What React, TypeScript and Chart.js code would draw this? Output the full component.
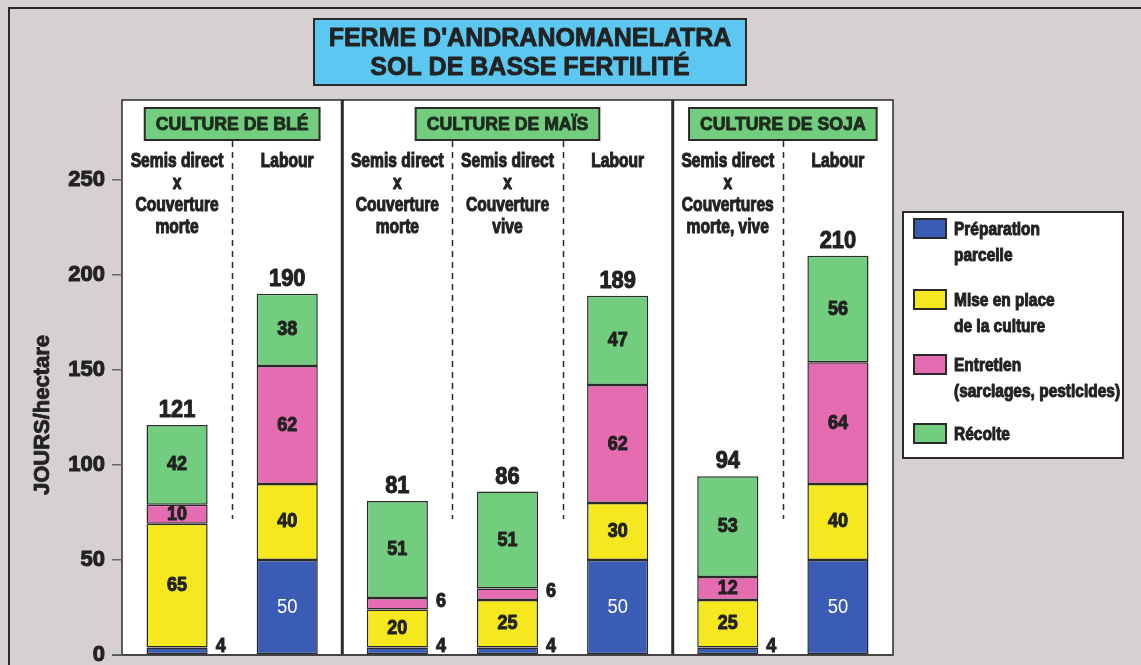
import React, { useEffect, useRef } from "react";
import { Chart, registerables } from "chart.js";

Chart.register(...registerables);

// ---- data ----
const categories = [
  "Blé – Semis direct",
  "Blé – Labour",
  "Maïs – Semis direct morte",
  "Maïs – Semis direct vive",
  "Maïs – Labour",
  "Soja – Semis direct",
  "Soja – Labour",
];
const columnHeaders: string[][] = [
  ["Semis direct", "x", "Couverture", "morte"],
  ["Labour"],
  ["Semis direct", "x", "Couverture", "morte"],
  ["Semis direct", "x", "Couverture", "vive"],
  ["Labour"],
  ["Semis direct", "x", "Couvertures", "morte, vive"],
  ["Labour"],
];
const groupTitles = ["CULTURE DE BLÉ", "CULTURE DE MAÏS", "CULTURE DE SOJA"];
const groupSizes = [2, 3, 2];
const chartTitle = ["FERME D'ANDRANOMANELATRA", "SOL DE BASSE FERTILITÉ"];
const yTitle = "JOURS/hectare";

const preparation = [4, 50, 4, 4, 50, 4, 50];
const miseEnPlace = [65, 40, 20, 25, 30, 25, 40];
const entretien = [10, 62, 6, 6, 62, 12, 64];
const recolte = [42, 38, 51, 51, 47, 53, 56];

const seriesNames = ["Préparation parcelle", "Mise en place de la culture", "Entretien (sarclages, pesticides)", "Récolte"];
const legendLines: string[][] = [
  ["Préparation", "parcelle"],
  ["Mise en place", "de la culture"],
  ["Entretien", "(sarclages, pesticides)"],
  ["Récolte"],
];
const seriesColors = ["#3a5cb4", "#f6e81f", "#e66cb1", "#72ce7e"];

const yTickStep = 50;
const yMax = 292;

const SANS = '"Liberation Sans", Arial, sans-serif';

function txt(
  ctx: CanvasRenderingContext2D,
  s: string,
  x: number,
  y: number,
  font: string,
  sx: number,
  align: CanvasTextAlign,
  color: string,
  baseline: CanvasTextBaseline = "middle",
  heavy = 0.9
) {
  ctx.save();
  ctx.translate(x, y);
  ctx.scale(sx, 1);
  ctx.font = font;
  ctx.fillStyle = color;
  ctx.textAlign = align;
  ctx.textBaseline = baseline;
  if (heavy > 0) {
    ctx.strokeStyle = color;
    ctx.lineWidth = heavy;
    ctx.lineJoin = "round";
    ctx.strokeText(s, 0, 0);
  }
  ctx.fillText(s, 0, 0);
  ctx.restore();
}

const decorPlugin = {
  id: "decor",
  beforeDraw(chart: any) {
    const ctx: CanvasRenderingContext2D = chart.ctx;
    const { left, right, top, bottom } = chart.chartArea;
    const xs = chart.scales.x;
    const W = chart.width;
    const H = chart.height;
    ctx.save();
    // background
    ctx.fillStyle = "#d6d0d0";
    ctx.fillRect(0, 0, W, H);
    // outer frame
    ctx.strokeStyle = "#2a2a2a";
    ctx.lineWidth = 2;
    ctx.beginPath();
    ctx.moveTo(9, H);
    ctx.lineTo(9, 8);
    ctx.lineTo(W, 8);
    ctx.stroke();

    // title box
    ctx.fillStyle = "#5cc7f0";
    ctx.fillRect(314, 19, 432, 66);
    ctx.strokeStyle = "#2a2a2a";
    ctx.lineWidth = 2;
    ctx.strokeRect(314, 19, 432, 66);
    txt(ctx, chartTitle[0], 530, 39, `bold 25px ${SANS}`, 1, "center", "#222", "middle", 0.8);
    txt(ctx, chartTitle[1], 530, 68, `bold 25px ${SANS}`, 1, "center", "#222", "middle", 0.8);

    // white panel
    ctx.fillStyle = "#ffffff";
    ctx.fillRect(left, top, right - left, bottom - top);
    ctx.strokeStyle = "#2a2a2a";
    ctx.lineWidth = 1.5;
    ctx.strokeRect(left, top, right - left, bottom - top);

    const step = xs.getPixelForValue(1) - xs.getPixelForValue(0);
    // group separators and headers
    let idx = 0;
    groupSizes.forEach((n, g) => {
      const gl = xs.getPixelForValue(idx) - step / 2;
      const gr = xs.getPixelForValue(idx + n - 1) + step / 2;
      if (g > 0) {
        ctx.strokeStyle = "#2a2a2a";
        ctx.lineWidth = 3;
        ctx.beginPath();
        ctx.moveTo(gl, top);
        ctx.lineTo(gl, bottom);
        ctx.stroke();
      }
      // header box
      const font = `bold 19px ${SANS}`;
      ctx.font = font;
      const sx = 0.93;
      const tw = ctx.measureText(groupTitles[g]).width * sx;
      const bw = tw + 22;
      const cx = (gl + gr) / 2;
      ctx.fillStyle = "#72ce7e";
      ctx.fillRect(cx - bw / 2, top + 8, bw, 32);
      ctx.strokeStyle = "#2a2a2a";
      ctx.lineWidth = 2;
      ctx.strokeRect(cx - bw / 2, top + 8, bw, 32);
      txt(ctx, groupTitles[g], cx, top + 25, font, sx, "center", "#1e2a1e", "middle", 0.9);
      // dashed separators within group
      for (let k = 1; k < n; k++) {
        const dx = Math.round(xs.getPixelForValue(idx + k) - step / 2) + 0.5;
        ctx.save();
        ctx.setLineDash([6, 5]);
        ctx.strokeStyle = "#2a2a2a";
        ctx.lineWidth = 1.5;
        ctx.beginPath();
        ctx.moveTo(dx, top + 41);
        ctx.lineTo(dx, 519);
        ctx.stroke();
        ctx.restore();
      }
      idx += n;
    });

    // column headers
    columnHeaders.forEach((lines, i) => {
      const cx = xs.getPixelForValue(i);
      lines.forEach((l, k) => {
        txt(ctx, l, cx, 161 + k * 22.3, `bold 20px ${SANS}`, 0.78, "center", "#222", "middle", 1.1);
      });
    });

    // bottom axis line
    ctx.strokeStyle = "#444";
    ctx.lineWidth = 2;
    ctx.beginPath();
    ctx.moveTo(112, bottom);
    ctx.lineTo(right, bottom);
    ctx.stroke();
    ctx.restore();
  },
  afterDatasetsDraw(chart: any) {
    const ctx: CanvasRenderingContext2D = chart.ctx;
    const nSeries = chart.data.datasets.length;
    // segment labels
    for (let d = 0; d < nSeries; d++) {
      const meta = chart.getDatasetMeta(d);
      const vals = chart.data.datasets[d].data as number[];
      meta.data.forEach((el: any, i: number) => {
        const v = vals[i];
        const mid = (el.y + el.base) / 2;
        if (v <= 6) {
          const y = Math.min(mid, el.base - 8);
          txt(ctx, String(v), el.x + el.width / 2 + 8, y, `bold 20px ${SANS}`, 0.9, "left", "#222", "middle", 1);
        } else if (d === 0) {
          txt(ctx, String(v), el.x, mid, `20px ${SANS}`, 0.92, "center", "#ffffff", "middle", 0);
        } else {
          txt(ctx, String(v), el.x, mid, `bold 20px ${SANS}`, 0.9, "center", "#222", "middle", 1);
        }
      });
    }
    // totals
    const topMeta = chart.getDatasetMeta(nSeries - 1);
    topMeta.data.forEach((el: any, i: number) => {
      const total = chart.data.datasets.reduce((s: number, ds: any) => s + ds.data[i], 0);
      txt(ctx, String(total), el.x, el.y - 8, `bold 23px ${SANS}`, 0.95, "center", "#222", "alphabetic", 1);
    });

    // y title
    ctx.save();
    ctx.translate(43, 415);
    ctx.rotate(-Math.PI / 2);
    txt(ctx, yTitle, 0, 0, `bold 22px ${SANS}`, 1, "center", "#222", "middle", 0.8);
    ctx.restore();

    // legend
    ctx.save();
    ctx.fillStyle = "#ffffff";
    ctx.fillRect(903, 212, 220, 246);
    ctx.strokeStyle = "#2a2a2a";
    ctx.lineWidth = 2;
    ctx.strokeRect(903, 212, 220, 246);
    const swTops = [219, 290, 355, 424];
    legendLines.forEach((lines, k) => {
      const ds = chart.data.datasets[k];
      ctx.fillStyle = ds.backgroundColor;
      ctx.fillRect(914, swTops[k], 32, 19);
      ctx.strokeStyle = "#2a2a2a";
      ctx.lineWidth = 2;
      ctx.strokeRect(914, swTops[k], 32, 19);
      lines.forEach((l, j) => {
        txt(ctx, l, 954, swTops[k] + 11 + j * 26, `bold 18px ${SANS}`, 0.86, "left", "#222", "middle", 1);
      });
    });
    ctx.restore();
  },
};

export default function App() {
  const ref = useRef<HTMLCanvasElement | null>(null);
  useEffect(() => {
    document.body.style.margin = "0";
    const canvas = ref.current!;
    const seriesData = [preparation, miseEnPlace, entretien, recolte];
    const chart = new Chart(canvas, {
      type: "bar",
      data: {
        labels: categories,
        datasets: seriesData.map((arr, k) => ({
          label: seriesNames[k],
          data: arr,
          backgroundColor: seriesColors[k],
          borderColor: "#2a2a2a",
          borderWidth: 1.5,
          borderSkipped: false,
          barPercentage: 0.555,
          categoryPercentage: 1,
        })),
      },
      options: {
        responsive: false,
        animation: false,
        devicePixelRatio: 1,
        layout: { padding: { top: 100, right: 248, bottom: 10, left: 0 } },
        plugins: {
          legend: { display: false },
          tooltip: { enabled: false },
          title: { display: false },
        },
        scales: {
          x: { type: "category", stacked: true, display: false },
          y: {
            stacked: true,
            min: 0,
            max: yMax,
            ticks: {
              stepSize: yTickStep,
              color: "#222",
              font: { family: "Liberation Sans", size: 22, weight: "bold" },
              padding: 7,
              textStrokeColor: "#222",
              textStrokeWidth: 1,
            },
            grid: {
              drawOnChartArea: false,
              drawTicks: true,
              tickLength: 10,
              color: "#666",
              lineWidth: 1.5,
            },
            border: { display: false },
            afterBuildTicks: (scale: any) => {
              scale.ticks = scale.ticks.filter((t: any) => t.value % yTickStep === 0);
            },
            afterFit: (scale: any) => {
              scale.width = 122;
              scale.paddingTop = 0;
              scale.paddingBottom = 0;
            },
          },
        },
      },
      plugins: [decorPlugin],
    });
    return () => chart.destroy();
  }, []);
  return (
    <div style={{ position: "fixed", left: 0, top: 0, width: 1141, height: 665 }}>
      <canvas ref={ref} width={1141} height={665} style={{ display: "block" }} />
    </div>
  );
}
